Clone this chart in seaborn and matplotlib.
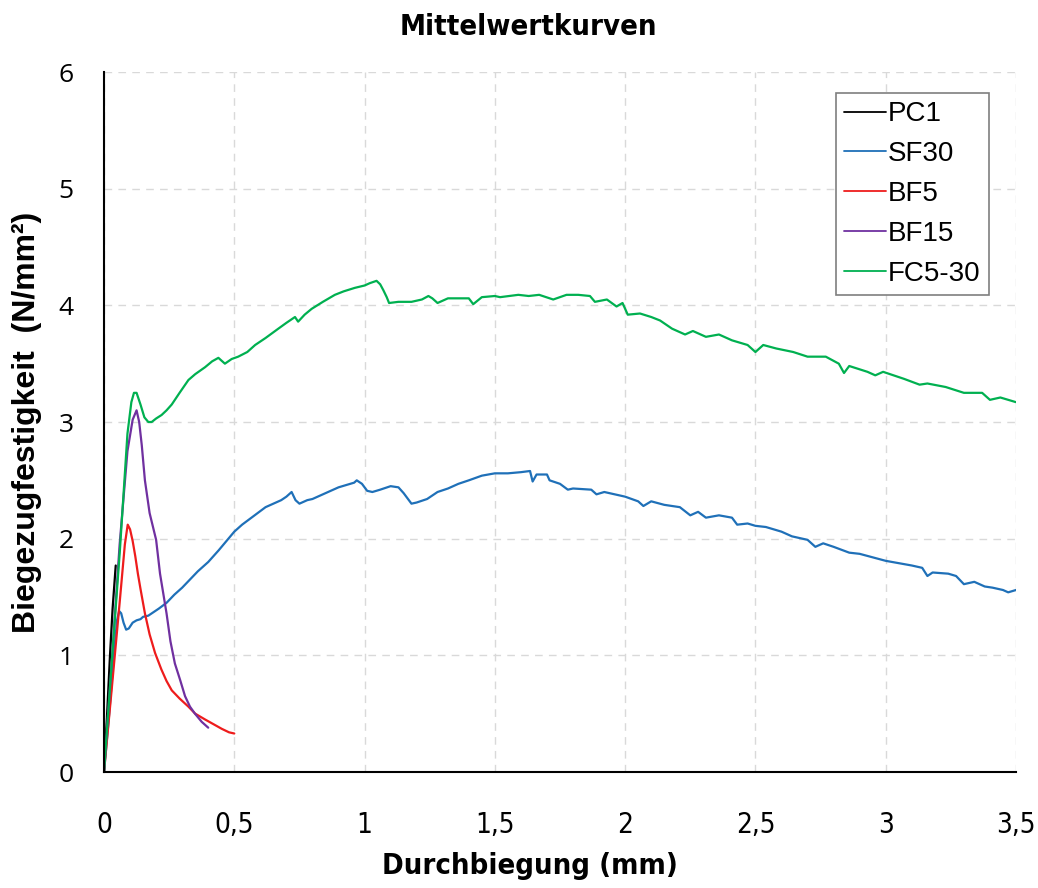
import os
import matplotlib
matplotlib.use("Agg")
import matplotlib.pyplot as plt
from matplotlib import font_manager
from matplotlib.font_manager import FontProperties
import seaborn as sns
import pandas as pd

# Mean load-deflection curves (Durchbiegung in mm, Biegezugfestigkeit in N/mm²)
pc1_x = [0, 0.012, 0.023, 0.033, 0.045]
pc1_y = [0, 0.50, 1.00, 1.40, 1.77]

sf30_x = [0, 0.02, 0.04, 0.05, 0.058, 0.066, 0.075, 0.085, 0.095, 0.11, 0.125, 0.14,
          0.15, 0.17, 0.19, 0.21, 0.24, 0.27, 0.30, 0.33, 0.36, 0.40, 0.44, 0.47,
          0.50, 0.53, 0.56, 0.59, 0.62, 0.65, 0.68, 0.70, 0.72, 0.735, 0.75, 0.78,
          0.80, 0.83, 0.86, 0.90, 0.93, 0.96, 0.97, 0.99, 1.01, 1.03, 1.06, 1.10,
          1.13, 1.15, 1.18, 1.20, 1.24, 1.28, 1.32, 1.36, 1.40, 1.45, 1.50, 1.55,
          1.60, 1.635, 1.645, 1.66, 1.70, 1.71, 1.75, 1.78, 1.80, 1.87, 1.89, 1.92,
          2.00, 2.05, 2.07, 2.10, 2.15, 2.21, 2.25, 2.28, 2.31, 2.36, 2.41, 2.43,
          2.47, 2.50, 2.54, 2.60, 2.64, 2.70, 2.73, 2.76, 2.80, 2.86, 2.90, 2.95,
          3.00, 3.05, 3.10, 3.14, 3.16, 3.18, 3.24, 3.27, 3.30, 3.34, 3.38, 3.41,
          3.45, 3.47, 3.50]
sf30_y = [0, 0.50, 1.05, 1.30, 1.38, 1.36, 1.28, 1.22, 1.23, 1.28, 1.30, 1.31,
          1.33, 1.34, 1.37, 1.40, 1.45, 1.52, 1.58, 1.65, 1.72, 1.80, 1.90, 1.98,
          2.06, 2.12, 2.17, 2.22, 2.27, 2.30, 2.33, 2.36, 2.40, 2.33, 2.30, 2.33,
          2.34, 2.37, 2.40, 2.44, 2.46, 2.48, 2.50, 2.47, 2.41, 2.40, 2.42, 2.45,
          2.44, 2.39, 2.30, 2.31, 2.34, 2.40, 2.43, 2.47, 2.50, 2.54, 2.56, 2.56,
          2.57, 2.58, 2.49, 2.55, 2.55, 2.50, 2.47, 2.42, 2.43, 2.42, 2.38, 2.40,
          2.36, 2.32, 2.28, 2.32, 2.29, 2.27, 2.20, 2.23, 2.18, 2.20, 2.18, 2.12,
          2.13, 2.11, 2.10, 2.06, 2.02, 1.99, 1.93, 1.96, 1.93, 1.88, 1.87, 1.84,
          1.81, 1.79, 1.77, 1.75, 1.68, 1.71, 1.70, 1.68, 1.61, 1.63, 1.59, 1.58,
          1.56, 1.54, 1.56]

bf5_x = [0, 0.03, 0.06, 0.08, 0.091, 0.10, 0.11, 0.12, 0.13, 0.14, 0.157, 0.175,
         0.196, 0.22, 0.24, 0.26, 0.29, 0.324, 0.35, 0.388, 0.42, 0.452, 0.48, 0.50]
bf5_y = [0, 0.72, 1.45, 1.95, 2.12, 2.08, 1.98, 1.85, 1.70, 1.57, 1.36, 1.18,
         1.02, 0.88, 0.78, 0.70, 0.63, 0.56, 0.50, 0.45, 0.41, 0.37, 0.34, 0.33]

bf15_x = [0, 0.03, 0.06, 0.09, 0.11, 0.125, 0.135, 0.145, 0.157, 0.175, 0.20,
          0.215, 0.24, 0.255, 0.272, 0.292, 0.311, 0.33, 0.349, 0.375, 0.40]
bf15_y = [0, 0.95, 1.95, 2.75, 3.02, 3.10, 3.00, 2.80, 2.50, 2.22, 1.99,
          1.70, 1.36, 1.12, 0.93, 0.79, 0.65, 0.56, 0.50, 0.43, 0.38]

fc530_x = [0, 0.03, 0.061, 0.09, 0.105, 0.115, 0.125, 0.14, 0.155, 0.17, 0.183,
           0.20, 0.221, 0.24, 0.26, 0.29, 0.324, 0.35, 0.388, 0.415, 0.439, 0.464,
           0.49, 0.515, 0.55, 0.58, 0.62, 0.669, 0.70, 0.733, 0.745, 0.77, 0.797,
           0.84, 0.886, 0.92, 0.963, 1.00, 1.02, 1.046, 1.06, 1.072, 1.085, 1.094,
           1.13, 1.18, 1.22, 1.245, 1.26, 1.28, 1.32, 1.36, 1.40, 1.417, 1.45, 1.50,
           1.52, 1.59, 1.63, 1.67, 1.724, 1.775, 1.82, 1.865, 1.884, 1.93, 1.967,
           1.99, 2.01, 2.057, 2.10, 2.134, 2.18, 2.23, 2.26, 2.31, 2.36, 2.41, 2.47,
           2.50, 2.53, 2.58, 2.645, 2.70, 2.77, 2.82, 2.84, 2.86, 2.93, 2.96, 2.99,
           3.07, 3.13, 3.16, 3.23, 3.30, 3.37, 3.40, 3.44, 3.50]
fc530_y = [0, 0.95, 1.90, 2.90, 3.17, 3.25, 3.25, 3.15, 3.04, 3.00, 3.00,
           3.03, 3.06, 3.10, 3.15, 3.25, 3.36, 3.41, 3.47, 3.52, 3.55, 3.50,
           3.54, 3.56, 3.60, 3.66, 3.72, 3.80, 3.85, 3.90, 3.86, 3.92, 3.97,
           4.03, 4.09, 4.12, 4.15, 4.17, 4.19, 4.21, 4.18, 4.13, 4.07, 4.02,
           4.03, 4.03, 4.05, 4.08, 4.06, 4.02, 4.06, 4.06, 4.06, 4.01, 4.07, 4.08,
           4.07, 4.09, 4.08, 4.09, 4.05, 4.09, 4.09, 4.08, 4.03, 4.05, 3.99,
           4.02, 3.92, 3.93, 3.90, 3.87, 3.80, 3.75, 3.78, 3.73, 3.75, 3.70, 3.66,
           3.60, 3.66, 3.63, 3.60, 3.56, 3.56, 3.50, 3.42, 3.48, 3.43, 3.40, 3.43,
           3.37, 3.32, 3.33, 3.30, 3.25, 3.25, 3.19, 3.21, 3.17]

series_names = ["PC1", "SF30", "BF5", "BF15", "FC5-30"]
series_colors = ["#000000", "#1F70B8", "#EE1C1C", "#7030A0", "#00B050"]
x_ticks = [0, 0.5, 1, 1.5, 2, 2.5, 3, 3.5]
x_tick_labels = ["0", "0,5", "1", "1,5", "2", "2,5", "3", "3,5"]
y_ticks = [0, 1, 2, 3, 4, 5, 6]

frames = []
for name, xs, ys in zip(series_names,
                        [pc1_x, sf30_x, bf5_x, bf15_x, fc530_x],
                        [pc1_y, sf30_y, bf5_y, bf15_y, fc530_y]):
    frames.append(pd.DataFrame({"x": xs, "y": ys, "Serie": name}))
df = pd.concat(frames, ignore_index=True)

sns.set_theme(style="white")
plt.rcParams["font.family"] = ["Liberation Sans", "DejaVu Sans"]
for key in ["text.color", "axes.labelcolor", "xtick.color", "ytick.color"]:
    plt.rcParams[key] = "black"


def narrow_font(bold, size):
    """Pick a condensed/narrow face if one is installed."""
    files = [f.fname for f in font_manager.fontManager.ttflist]
    prefs = (["LiberationSansNarrow-Bold", "DejaVuSansCondensed-Bold"] if bold
             else ["LiberationSansNarrow-Regular", "DejaVuSansCondensed."])
    for p in prefs:
        for fn in files:
            if p in os.path.basename(fn):
                return FontProperties(fname=fn, size=size)
    return FontProperties(family="DejaVu Sans",
                          weight="bold" if bold else "normal",
                          size=size * 0.82)


fig = plt.figure(figsize=(10.38, 8.88), dpi=100)
ax = fig.add_axes([104 / 1038, 116 / 888, 912 / 1038, 700 / 888])

sns.lineplot(data=df, x="x", y="y", hue="Serie", hue_order=series_names,
             palette=dict(zip(series_names, series_colors)), sort=False,
             estimator=None, units="Serie", linewidth=1.6, ax=ax, legend=True)

ax.set_xlim(0, 3.5)
ax.set_ylim(0, 6)
ax.set_xticks(x_ticks)
ax.set_xticklabels(x_tick_labels, fontproperties=narrow_font(False, 20))
ax.set_yticks(y_ticks)
ax.set_yticklabels([str(v) for v in y_ticks], fontfamily="Open Sans", fontsize=19)

ax.grid(True, color="#d9d9d9", linewidth=1.0, linestyle=(0, (5.5, 4.5)))
for side in ["top", "right"]:
    ax.spines[side].set_visible(False)
for side in ["left", "bottom"]:
    ax.spines[side].set_color("black")
    ax.spines[side].set_linewidth(1.5)
ax.tick_params(axis="both", direction="in", length=8, width=1.5, color="black")
ax.tick_params(axis="x", pad=28)
ax.tick_params(axis="y", pad=22)

ax.set_xlabel("Durchbiegung (mm)", fontproperties=narrow_font(True, 21))
ax.xaxis.set_label_coords((530 - 104) / 912, -(866 - 772) / 700)
ax.xaxis.label.set_verticalalignment("center")
ax.set_ylabel("Biegezugfestigkeit  (N/mm²)", fontweight="bold", fontsize=23,
              labelpad=12)

fig.text(528 / 1038, 1 - 27 / 888, "Mittelwertkurven",
         fontproperties=narrow_font(True, 21), ha="center", va="center")

handles, labels = ax.get_legend_handles_labels()
leg = ax.legend(handles, labels, loc="upper left",
                bbox_to_anchor=((836 - 104) / 912, (772 - 93) / 700),
                fontsize=20, frameon=True, fancybox=False, edgecolor="#7f7f7f",
                framealpha=1, handlelength=1.5, handletextpad=0.08,
                labelspacing=0.5, borderpad=0.3, borderaxespad=0)
leg.get_frame().set_linewidth(1.2)
for line in leg.get_lines():
    line.set_linewidth(1.3)
for t in leg.get_texts():
    t.set_color("black")

fig.savefig("out.png", dpi=100)
